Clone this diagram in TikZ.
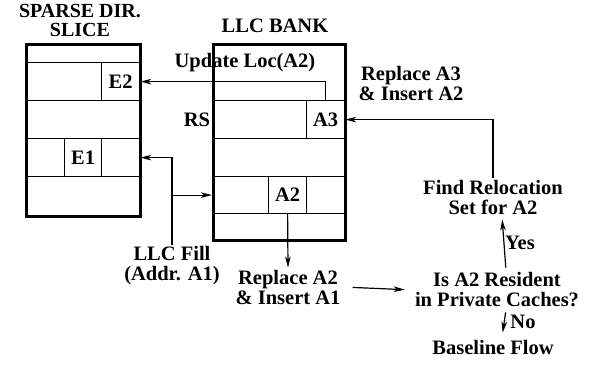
\documentclass[tikz,border=0pt]{standalone}
\usepackage{fontspec}
\setmainfont{Liberation Serif}
\usetikzlibrary{arrows.meta}
\begin{document}
\begin{tikzpicture}[x=1pt,y=-1pt,
  every node/.style={font=\fontsize{20.5}{20}\selectfont\bfseries, inner sep=0pt},
  cell/.style={draw, line width=1.2pt, anchor=north west},
  outer/.style={draw, line width=3.2pt, anchor=north west},
  lbl/.style={align=center},
  conn/.style={line width=1.2pt},
  arr/.style={line width=1.2pt, -{Stealth[length=11pt,width=5.5pt,inset=3pt]}}]
\useasboundingbox (0,0) rectangle (590,368);
% --- sparse dir slice
\node[cell, minimum width=114pt, minimum height=19pt] (s1) at (25,43) {};
\node[cell, minimum width=114pt, minimum height=38pt] (s2) at (25,62) {};
\node[cell, minimum width=114pt, minimum height=38pt] (s3) at (25,100) {};
\node[cell, minimum width=114pt, minimum height=38pt] (s4) at (25,138) {};
\node[cell, minimum width=114pt, minimum height=39pt] (s5) at (25,176) {};
\node[cell, minimum width=38pt, minimum height=38pt] (e2) at (101,62) {};
\node at (e2.center) {E2};
\node[cell, minimum width=37pt, minimum height=38pt] (e1) at (64,138) {};
\node at (e1.center) {E1};
\node[outer, minimum width=114pt, minimum height=172pt] (slice) at (25,43) {};
% --- llc bank
\node[cell, minimum width=132pt, minimum height=57pt] (l1) at (212,43) {};
\node[cell, minimum width=132pt, minimum height=38pt] (l2) at (212,100) {};
\node[cell, minimum width=132pt, minimum height=38pt] (l3) at (212,138) {};
\node[cell, minimum width=132pt, minimum height=37pt] (l4) at (212,176) {};
\node[cell, minimum width=132pt, minimum height=26pt] (l5) at (212,213) {};
\node[cell, minimum width=38pt, minimum height=38pt] (a3) at (306,100) {};
\node at (a3.center) {A3};
\node[cell, minimum width=38pt, minimum height=37pt] (a2) at (268,176) {};
\node at (a2.center) {A2};
\node[outer, minimum width=132pt, minimum height=196pt] (llc) at (212,43) {};
% --- labels
\node[font=\fontsize{20}{20}\selectfont\bfseries] (t1) at (80,11) {SPARSE DIR.};
\node[font=\fontsize{20}{20}\selectfont\bfseries] (t1b) at (80,29.5) {SLICE};
\node (t2) at (275,26) {LLC BANK};
\node (upd) at (245,63) {Update Loc(A2)};
\node (rs) at (197,120) {RS};
\node[lbl] (rep3) at (411,83) {Replace A3\\\& Insert A2};
\node[lbl, inner sep=2pt] (find) at (493,197) {Find Relocation\\Set for A2};
\node[lbl, inner sep=2pt] (q) at (497,290) {Is A2 Resident\\in Private Caches?};
\node[inner sep=2pt] (base) at (493,347) {Baseline Flow};
\node (yes) at (520,243) {Yes};
\node (no) at (523,322) {No};
\node[lbl, inner sep=2pt] (fill) at (172,266) {LLC Fill\\(Addr. A1)};
\node[lbl, inner sep=2pt] (rep2) at (288,287) {Replace A2\\\& Insert A1};
% --- connectors
\draw[arr] (a3.north) |- (e2.east);
\draw[arr] (find.north) |- (a3.east);
\draw[arr] (fill.north) |- (s4.east);
\draw[arr] (fill.north |- l4.west) -- (l4.west);
\draw[arr] (a2.south) -- (rep2.north);
\draw[arr, shorten <=10pt, shorten >=8pt] (rep2.east) -- (q.west);
\draw[arr, shorten <=3pt, shorten >=3pt] ([xshift=9pt]q.north) -- ([xshift=9pt]find.south);
\draw[arr, shorten <=3pt, shorten >=5pt] ([xshift=9pt]q.south) -- ([xshift=9pt]base.north);
\end{tikzpicture}
\end{document}
